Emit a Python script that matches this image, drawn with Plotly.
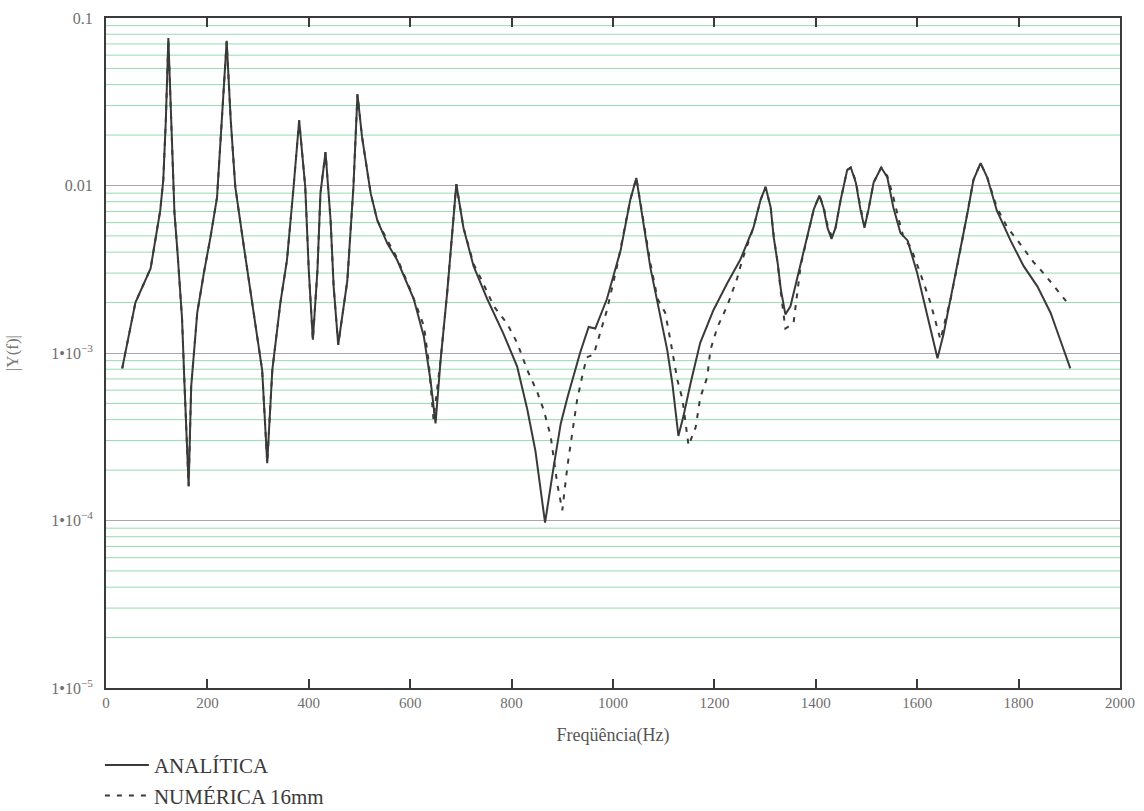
import plotly.graph_objects as go

# Frequency response |Y(f)| — analytical solution vs. numerical model (16 mm mesh)
freq_analitica = [32, 58, 88, 98, 107, 113, 118, 123, 129, 135, 141, 150, 155, 159, 163,
                  168, 180, 193, 206, 219, 229, 238, 246, 255, 272, 291, 308, 318,
                  328, 344, 357, 370, 381, 393, 400, 408, 417, 423, 433, 443, 449, 458,
                  476, 488, 496, 505, 522, 535, 555, 574, 607, 627, 640, 650, 660, 673,
                  683, 691, 705, 725, 752, 784, 811, 831, 847, 866, 883, 897, 910, 922,
                  935, 952, 965, 988, 1015, 1034, 1046, 1074, 1093, 1107, 1117, 1123,
                  1129, 1139, 1153, 1172, 1198, 1225, 1251, 1277, 1291, 1301, 1311,
                  1317, 1325, 1331, 1340, 1350, 1363, 1383, 1396, 1407, 1415, 1423,
                  1431, 1439, 1449, 1462, 1469, 1479, 1488, 1496, 1504, 1514, 1529,
                  1541, 1553, 1567, 1581, 1600, 1620, 1633, 1640, 1652, 1666, 1685,
                  1699, 1711, 1725, 1738, 1757, 1784, 1810, 1837, 1863, 1882, 1902]
y_analitica = [8.1e-4, 2.0e-3, 3.2e-3, 4.9e-3, 7.1e-3, 1.08e-2, 2.46e-2, 7.6e-2, 2.46e-2,
               6.9e-3, 4.0e-3, 1.6e-3, 6.3e-4, 3.2e-4, 1.6e-4,
               6.3e-4, 1.74e-3, 3.0e-3, 4.9e-3, 8.5e-3, 2.46e-2, 7.3e-2, 2.46e-2, 9.8e-3,
               4.3e-3, 1.8e-3, 7.9e-4, 2.2e-4,
               7.9e-4, 2.0e-3, 3.6e-3, 9.8e-3, 2.45e-2, 9.8e-3, 3.1e-3, 1.2e-3, 3.1e-3,
               9.0e-3, 1.58e-2, 6.2e-3, 2.5e-3, 1.12e-3,
               2.7e-3, 9.8e-3, 3.5e-2, 1.95e-2, 9.0e-3, 6.2e-3, 4.5e-3, 3.6e-3, 2.1e-3,
               1.25e-3, 6.9e-4, 3.8e-4, 9.1e-4, 2.3e-3,
               5.6e-3, 1.02e-2, 5.6e-3, 3.3e-3, 2.1e-3, 1.3e-3, 8.3e-4, 4.6e-4, 2.6e-4,
               9.7e-5, 2.1e-4, 3.8e-4, 5.4e-4, 7.2e-4,
               1.0e-3, 1.43e-3, 1.4e-3, 2.1e-3, 4.1e-3, 8.2e-3, 1.11e-2, 3.2e-3, 1.64e-3,
               1.04e-3, 6.6e-4, 4.6e-4,
               3.2e-4, 4.2e-4, 6.6e-4, 1.15e-3, 1.8e-3, 2.6e-3, 3.6e-3, 5.6e-3, 8.2e-3,
               9.8e-3, 7.4e-3,
               4.9e-3, 3.4e-3, 2.4e-3, 1.7e-3, 1.9e-3, 2.8e-3, 4.9e-3, 7.2e-3, 8.7e-3,
               7.4e-3, 5.6e-3,
               4.8e-3, 5.6e-3, 8.2e-3, 1.24e-2, 1.28e-2, 1.04e-2, 7.2e-3, 5.6e-3, 7.2e-3,
               1.04e-2, 1.28e-2,
               1.12e-2, 7.4e-3, 5.2e-3, 4.7e-3, 3.0e-3, 1.7e-3, 1.15e-3, 9.3e-4, 1.3e-3,
               2.1e-3, 4.1e-3,
               6.8e-3, 1.08e-2, 1.36e-2, 1.12e-2, 7.1e-3, 4.7e-3, 3.3e-3, 2.5e-3, 1.74e-3,
               1.2e-3, 8.1e-4]

freq_numerica = [32, 58, 88, 98, 107, 113, 118, 123, 129, 135, 141, 150, 155, 159, 163,
                 168, 180, 193, 206, 219, 229, 238, 246, 255, 272, 291, 308, 318,
                 328, 344, 357, 370, 381, 393, 400, 408, 417, 423, 433, 443, 449, 458,
                 476, 488, 496, 505, 522, 535, 555, 574, 600, 627, 636, 646, 660, 673,
                 683, 691, 705, 725, 739, 765, 791, 811, 831, 851, 863, 877, 890, 900,
                 910, 929, 939, 948, 962, 975, 988, 1008, 1034, 1046, 1074, 1088, 1103,
                 1113, 1127, 1137, 1149, 1163, 1172, 1186, 1192, 1206, 1225, 1245,
                 1255, 1277, 1291, 1301, 1311, 1317, 1325, 1331, 1340, 1356, 1370,
                 1383, 1396, 1407, 1415, 1423, 1431, 1439, 1449, 1462, 1469, 1479,
                 1488, 1496, 1504, 1514, 1529, 1541, 1553, 1564, 1573, 1587, 1597,
                 1606, 1626, 1640, 1646, 1656, 1666, 1685, 1699, 1711, 1725, 1738,
                 1757, 1778, 1798, 1829, 1849, 1879, 1896]
y_numerica = [8.1e-4, 2.0e-3, 3.2e-3, 4.9e-3, 7.1e-3, 1.08e-2, 2.46e-2, 7.4e-2, 2.46e-2,
              6.9e-3, 4.0e-3, 1.6e-3, 6.3e-4, 3.2e-4, 1.6e-4,
              6.3e-4, 1.74e-3, 3.0e-3, 4.9e-3, 8.5e-3, 2.46e-2, 7.2e-2, 2.46e-2, 9.8e-3,
              4.3e-3, 1.8e-3, 7.9e-4, 2.2e-4,
              7.9e-4, 2.0e-3, 3.6e-3, 9.8e-3, 2.45e-2, 9.8e-3, 3.1e-3, 1.2e-3, 3.1e-3,
              9.0e-3, 1.58e-2, 6.2e-3, 2.5e-3, 1.12e-3,
              2.7e-3, 9.8e-3, 3.5e-2, 1.95e-2, 9.0e-3, 6.2e-3, 4.7e-3, 3.7e-3, 2.4e-3,
              1.45e-3, 9.1e-4, 4.0e-4, 9.1e-4, 2.3e-3,
              5.6e-3, 1.02e-2, 5.6e-3, 3.4e-3, 2.8e-3, 1.9e-3, 1.5e-3, 1.15e-3, 7.9e-4,
              5.8e-4, 4.6e-4, 3.2e-4, 1.66e-4, 1.15e-4,
              2.1e-4, 5.2e-4, 7.2e-4, 9.4e-4, 9.8e-4, 1.32e-3, 1.8e-3, 3.3e-3, 8.2e-3,
              1.11e-2, 3.4e-3, 2.1e-3, 1.74e-3,
              1.2e-3, 6.9e-4, 5.3e-4, 2.8e-4, 3.6e-4, 5.4e-4, 7.2e-4, 1.04e-3, 1.43e-3,
              1.9e-3, 2.8e-3,
              3.6e-3, 5.6e-3, 8.2e-3, 9.8e-3, 7.4e-3, 5.0e-3, 3.4e-3, 2.3e-3, 1.4e-3,
              1.5e-3, 3.3e-3,
              4.9e-3, 7.2e-3, 8.7e-3, 7.6e-3, 5.8e-3, 5.0e-3, 5.6e-3, 8.2e-3, 1.24e-2,
              1.28e-2, 1.06e-2,
              7.4e-3, 5.8e-3, 7.2e-3, 1.04e-2, 1.28e-2, 1.14e-2, 8.5e-3, 6.2e-3, 4.9e-3,
              4.3e-3, 3.6e-3,
              3.0e-3, 2.0e-3, 1.37e-3, 1.2e-3, 1.6e-3, 2.1e-3, 4.1e-3, 6.8e-3, 1.08e-2,
              1.36e-2, 1.12e-2,
              7.4e-3, 5.6e-3, 4.7e-3, 3.5e-3, 3.0e-3, 2.3e-3, 2.0e-3]

x_ticks = [0, 200, 400, 600, 800, 1000, 1200, 1400, 1600, 1800, 2000]
y_ticks = [1e-5, 1e-4, 1e-3, 1e-2, 1e-1]
y_tick_labels = ["1•10<sup>−5</sup>", "1•10<sup>−4</sup>", "1•10<sup>−3</sup>", "0.01", "0.1"]

# intermediate gridlines (2..9 within every decade)
y_minor = [m * d for d in y_ticks[:-1] for m in range(2, 10)]

SERIF = "Liberation Serif"
INK = "#3a3a3a"
LABEL = "#6e6e6e"
MINOR_GRID = "#94dcad"

fig = go.Figure()
fig.add_trace(go.Scatter(
    x=freq_analitica, y=y_analitica, mode="lines", name="ANALÍTICA",
    line=dict(color=INK, width=2),
))
fig.add_trace(go.Scatter(
    x=freq_numerica, y=y_numerica, mode="lines", name="NUMÉRICA 16mm",
    line=dict(color=INK, width=2, dash="5px,7px"),
))

# light green horizontal rules for the in-decade values
for v in y_minor:
    fig.add_shape(type="line", xref="paper", x0=0, x1=1, yref="y", y0=v, y1=v,
                  line=dict(color=MINOR_GRID, width=1), layer="below")

fig.update_layout(
    width=1144, height=811,
    margin=dict(l=106, r=24, t=18, b=123, autoexpand=False),
    paper_bgcolor="white", plot_bgcolor="white",
    font=dict(family=SERIF, color=LABEL, size=15),
    showlegend=True,
    legend=dict(
        orientation="v", x=-0.006, xanchor="left", y=-0.085, yanchor="top",
        font=dict(family=SERIF, size=21, color=INK),
        bgcolor="rgba(0,0,0,0)", tracegroupgap=0, itemwidth=44,
    ),
)

fig.update_xaxes(
    range=[0, 2000], tickvals=x_ticks,
    ticks="inside", ticklen=9, tickwidth=2, tickcolor=INK,
    showline=True, linewidth=2, linecolor=INK, mirror="allticks",
    showgrid=False, zeroline=False,
    tickfont=dict(family=SERIF, size=15, color=LABEL),
    title=dict(text="Freqüência(Hz)", font=dict(family=SERIF, size=18, color="#555"),
               standoff=18),
)
fig.update_yaxes(
    type="log", range=[-5, -1], tickvals=y_ticks, ticktext=y_tick_labels,
    ticks="", showline=True, linewidth=2, linecolor=INK, mirror=True,
    showgrid=True, gridcolor="#a8a8a8", gridwidth=1, zeroline=False,
    ticklabelstandoff=8,
    tickfont=dict(family=SERIF, size=16, color=LABEL),
    title=dict(text="|Y(f)|", font=dict(family=SERIF, size=17, color="#777"),
               standoff=28),
)

fig.write_html("out.html")
